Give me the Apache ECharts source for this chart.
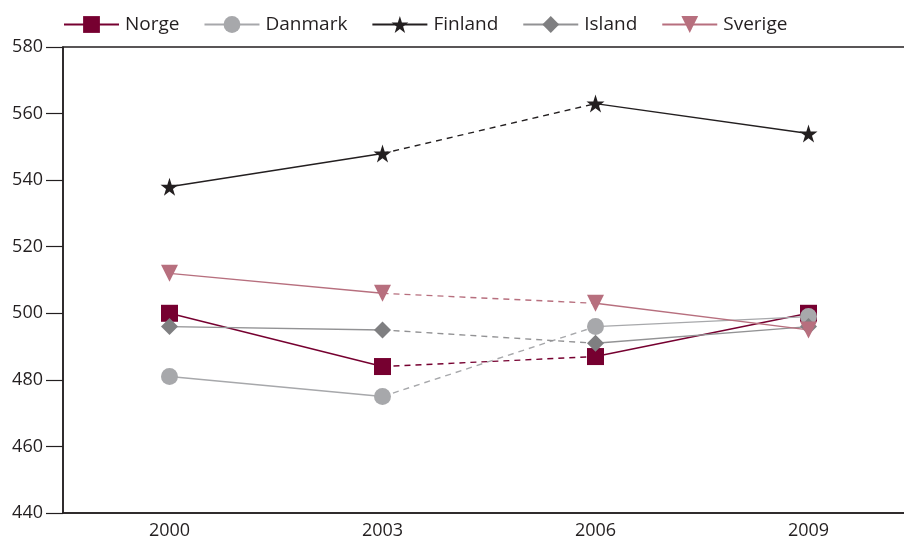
<!DOCTYPE html>
<html>
<head>
<meta charset="utf-8">
<script src="https://cdn.jsdelivr.net/npm/echarts@6/dist/echarts.min.js"></script>
<style>
  html, body { margin: 0; padding: 0; background: #fff; }
  #chart { width: 904px; height: 540px; }
</style>
</head>
<body>
<div id="chart"></div>
<script>
// PISA naturfag – gjennomsnittlig poengsum per land
const years = ['2000', '2003', '2006', '2009'];
const norge   = [500, 484, 487, 500];
const danmark = [481, 475, 496, 499];
const finland = [538, 548, 563, 554];
const island  = [496, 495, 491, 496];
const sverige = [512, 506, 503, 495];
const yTicks = [440, 460, 480, 500, 520, 540, 560, 580];

const STAR = 'path://M50,0 L61.8,35.4 L99,35.4 L69,57.3 L80.4,92.7 L50,70.8 L19.6,92.7 L31,57.3 L1,35.4 L38.2,35.4 Z';

const countries = [
  { name: 'Norge',   data: norge,   color: '#760030', line: '#760030', symbol: 'rect',     size: 17, rotate: 0 },
  { name: 'Danmark', data: danmark, color: '#a7a8ab', line: '#a7a8ab', symbol: 'circle',   size: 17, rotate: 0 },
  { name: 'Finland', data: finland, color: '#231f20', line: '#231f20', symbol: STAR,       size: 18, rotate: 0 },
  { name: 'Island',  data: island,  color: '#7f7f81', line: '#929294', symbol: 'diamond',  size: 17, rotate: 0 },
  { name: 'Sverige', data: sverige, color: '#b76f7e', line: '#b76f7e', symbol: 'triangle', size: 17, rotate: 180 }
];

const FONT = 'Open Sans';
const series = [];
countries.forEach(function (c, i) {
  const d = c.data;
  const base = {
    type: 'line',
    symbol: c.symbol,
    symbolSize: c.size,
    symbolRotate: c.rotate,
    connectNulls: false,
    itemStyle: { color: c.color },
    emphasis: { disabled: true },
    z: 2 + i
  };
  // 2000–2003: heltrukken
  series.push(Object.assign({}, base, {
    name: c.name,
    data: [d[0], d[1], '-', '-'],
    lineStyle: { color: c.line, width: 1.4, type: 'solid' }
  }));
  // 2003–2006: stiplet (brudd i tidsserien)
  series.push(Object.assign({}, base, {
    name: c.name + ' 2003–2006',
    data: ['-', d[1], d[2], '-'],
    showSymbol: false,
    symbol: 'none',
    lineStyle: { color: c.line, width: 1.4, type: [6, 5] },
    z: 1
  }));
  // 2006–2009: heltrukken
  series.push(Object.assign({}, base, {
    name: c.name + ' 2006–2009',
    data: ['-', '-', d[2], d[3]],
    lineStyle: { color: c.line, width: 1.4, type: 'solid' }
  }));
});

const chart = echarts.init(document.getElementById('chart'), null, { renderer: 'canvas' });
chart.setOption({
  animation: false,
  backgroundColor: '#ffffff',
  textStyle: { fontFamily: FONT },
  legend: {
    data: countries.map(function (c) { return c.name; }),
    left: 58,
    top: 10,
    itemWidth: 55,
    itemHeight: 21,
    itemGap: 24,
    textStyle: { fontFamily: FONT, fontSize: 19, color: '#231f20', padding: [0, 0, 0, 1] },
    selectedMode: false
  },
  grid: {
    left: 63,
    width: 852,
    top: 47,
    bottom: 27,
    outerBoundsMode: 'none',
    containLabel: false,
    show: true,
    borderColor: '#231f20',
    borderWidth: 1.5
  },
  xAxis: {
    type: 'category',
    data: years,
    boundaryGap: true,
    axisLine: { lineStyle: { color: '#231f20', width: 1.5 } },
    axisTick: { show: false },
    axisLabel: { fontFamily: FONT, fontSize: 18, color: '#231f20', margin: 9 },
    splitLine: { show: false }
  },
  yAxis: {
    type: 'value',
    min: yTicks[0],
    max: yTicks[yTicks.length - 1],
    interval: 20,
    axisLine: { show: true, lineStyle: { color: '#231f20', width: 1.5 } },
    axisTick: { show: true, inside: false, length: 17, lineStyle: { color: '#231f20', width: 1.2 } },
    axisLabel: { fontFamily: FONT, fontSize: 18, color: '#231f20', margin: 20 },
    splitLine: { show: false }
  },
  series: series
});
</script>
</body>
</html>
